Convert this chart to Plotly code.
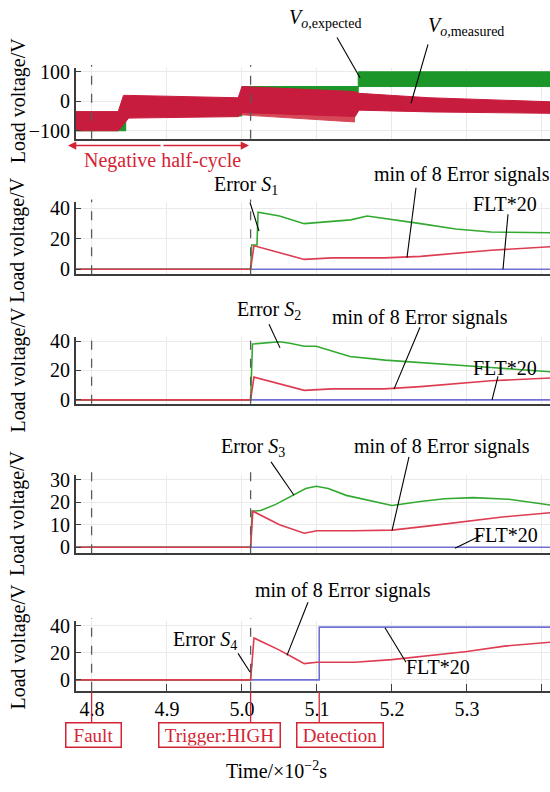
import plotly.graph_objects as go

W, H = 550, 792
FONT = "Liberation Serif, Times New Roman, serif"

# ---------------- data ----------------
t_left, t_right = 4.7783, 5.4107
t_fault, t_trigger, t_detect = 4.7995, 5.0115, 5.103

# panel 1 : expected output voltage (switching band envelope)
exp_t = [4.775, 4.845, 4.845, 5.0, 5.0, 5.155, 5.155, 5.415]
exp_lo = [-100, -100, -50, -50, 0, 0, 50, 50]
exp_hi = [-50, -50, 0, 0, 50, 50, 100, 100]

# panel 1 : measured output voltage (switching band envelope)
meas_t = [4.775, 4.835, 4.842, 4.849, 4.995, 5.0, 5.15, 5.156, 5.25, 5.415]
meas_hi = [-35, -35, 20, 20, 12, 50, 33, 27, 12, -2]
meas_lo = [-100, -100, -80, -57, -52, -42, -55, -30, -36, -41]
light_t = [5.0, 5.15]
light_hi = [-42, -55]
light_lo = [-46, -70]

# panel 2 : Error S1
s1_t = [4.775, 5.0115, 5.013, 5.020, 5.0215, 5.05, 5.083, 5.12, 5.145, 5.167, 5.19, 5.238, 5.285, 5.332, 5.415]
s1_v = [0, 0, 16, 16, 37.5, 35, 30, 31.5, 32.5, 35, 33.5, 30, 26.5, 24.5, 24]
m2_t = [4.775, 5.0115, 5.016, 5.05, 5.083, 5.12, 5.19, 5.238, 5.285, 5.332, 5.415]
m2_v = [0, 0, 15.5, 11, 6.5, 7.5, 7.5, 8.5, 10.5, 12.5, 15]

# panel 3 : Error S2
s2_t = [4.775, 5.0115, 5.014, 5.03, 5.05, 5.064, 5.083, 5.099, 5.12, 5.144, 5.191, 5.238, 5.285, 5.332, 5.415]
s2_v = [0, 0, 38, 38.5, 39.5, 38.5, 36.5, 36.5, 33, 29.5, 27, 25.5, 24, 22, 19]
m3_t = [4.775, 5.0115, 5.016, 5.05, 5.083, 5.12, 5.19, 5.238, 5.285, 5.332, 5.415]
m3_v = [0, 0, 15.5, 11, 6.5, 7.5, 7.5, 9, 11, 13, 15]

# panel 4 : Error S3
s3_t = [4.775, 5.0115, 5.0135, 5.025, 5.045, 5.064, 5.085, 5.099, 5.115, 5.139, 5.167, 5.2, 5.238, 5.27, 5.308, 5.356, 5.415]
s3_v = [0, 0, 16, 16.3, 19, 22.4, 26, 27, 26, 23, 21, 18.5, 20.3, 21.5, 22, 21.3, 18.5]
m4_t = [4.775, 5.0115, 5.0145, 5.05, 5.083, 5.1, 5.15, 5.2, 5.25, 5.3, 5.35, 5.415]
m4_v = [0, 0, 16, 10, 6.2, 7.3, 7.3, 7.6, 9.5, 11.5, 13.5, 15.4]

# panel 5 : Error S4
s4_t = [4.775, 5.0115, 5.0125, 5.0135]
s4_v = [0, 0, 9, 12]
m5_t = [4.775, 5.0115, 5.016, 5.05, 5.07, 5.083, 5.1, 5.15, 5.2, 5.25, 5.3, 5.35, 5.415]
m5_v = [0, 0, 31, 22, 16, 12, 13, 13, 15, 18, 21, 25, 28]

flt_t = [4.775, 5.415]
flt_v = [0, 0]
flt5_t = [4.775, 5.103, 5.103, 5.415]
flt5_v = [0, 0, 39, 39]

x_ticks = [4.8, 4.9, 5.0, 5.1, 5.2, 5.3, 5.4]
x_ticktext = ["4.8", "4.9", "5.0", "5.1", "5.2", "5.3", ""]
y_ticks = [[-100, 0, 100], [0, 20, 40], [0, 20, 40], [0, 10, 20, 30], [0, 20, 40]]

# ---------------- layout geometry (pixels) ----------------
AX_L = 75.7
panels_px = [(62, 134), (199, 272), (336, 404), (476, 556), (625, 696)]
title_cy = [95, 237, 369, 515, 651]
y_ranges = [[-126.7, 113.3], [-3.2, 43.9], [-2.7, 42.7], [-2.6, 32.2], [-8, 43.6]]


def X(px):
    return px / W


def Y(py):
    return 1 - py / H


GREEN_BAND = "rgb(28,150,40)"
RED_BAND = "rgb(200,28,62)"
GREEN = "rgb(50,170,50)"
RED = "rgb(222,60,82)"
BLUE = "rgb(112,112,212)"
ANN_RED = "rgb(212,36,52)"
GRID = "rgb(234,234,234)"
AXC = "rgb(60,60,60)"

fig = go.Figure()


def band(t, lo, hi, color, xa, ya):
    fig.add_trace(go.Scatter(
        x=list(t) + list(t)[::-1], y=list(hi) + list(lo)[::-1],
        fill="toself", fillcolor=color, line=dict(color=color, width=1),
        mode="lines", xaxis=xa, yaxis=ya, hoverinfo="skip", showlegend=False))


def line(t, v, color, xa, ya, w=1.6):
    fig.add_trace(go.Scatter(x=t, y=v, mode="lines", line=dict(color=color, width=w),
                             xaxis=xa, yaxis=ya, showlegend=False))


band(exp_t, exp_lo, exp_hi, GREEN_BAND, "x", "y")
band(meas_t, meas_lo, meas_hi, RED_BAND, "x", "y")
band(light_t, light_lo, light_hi, "rgb(214,72,88)", "x", "y")

line(flt_t, flt_v, BLUE, "x2", "y2")
line(s1_t, s1_v, GREEN, "x2", "y2")
line(m2_t, m2_v, RED, "x2", "y2")

line(flt_t, flt_v, BLUE, "x3", "y3")
line(s2_t, s2_v, GREEN, "x3", "y3")
line(m3_t, m3_v, RED, "x3", "y3")

line(flt_t, flt_v, BLUE, "x4", "y4")
line(s3_t, s3_v, GREEN, "x4", "y4")
line(m4_t, m4_v, RED, "x4", "y4")

line(flt5_t, flt5_v, BLUE, "x5", "y5")
line(s4_t, s4_v, GREEN, "x5", "y5")
line(m5_t, m5_v, RED, "x5", "y5")

layout = dict(width=W, height=H, margin=dict(l=0, r=0, t=0, b=0),
              paper_bgcolor="white", plot_bgcolor="white",
              font=dict(family=FONT, size=20, color="black"), showlegend=False)

shapes = []
annotations = []
for i in range(5):
    k = "" if i == 0 else str(i + 1)
    top, bot = panels_px[i]
    last = i == 4
    layout["xaxis" + k] = dict(
        domain=[X(AX_L), 1], range=[t_left, t_right], anchor="y" + k,
        showline=True, linecolor=AXC, linewidth=1.5, mirror=False,
        showgrid=True, gridcolor=GRID, gridwidth=1, zeroline=False,
        tickmode="array", tickvals=x_ticks, ticktext=x_ticktext,
        ticks="inside" if last else "", ticklen=7, tickcolor=AXC, tickwidth=1.2,
        showticklabels=last, tickfont=dict(family=FONT, size=20))
    layout["yaxis" + k] = dict(
        domain=[Y(bot), Y(top)], range=y_ranges[i], anchor="x" + k,
        showline=True, linecolor=AXC, linewidth=1.5,
        showgrid=True, gridcolor=GRID, gridwidth=1, zeroline=False,
        tickmode="array", tickvals=y_ticks[i],
        ticks="inside", ticklen=6, tickcolor=AXC, tickwidth=1.2,
        ticklabelstandoff=0, tickfont=dict(family=FONT, size=20))
    for tv in (t_fault, t_trigger):
        shapes.append(dict(type="line", xref="x" + k, yref="y" + k + " domain",
                           x0=tv, x1=tv, y0=0, y1=1.04,
                           line=dict(color="rgb(90,90,90)", width=1.3, dash="dash")))
    annotations.append(dict(text="Load voltage/V", textangle=-90, xref="paper", yref="paper",
                            x=X(18), y=Y(title_cy[i]), showarrow=False,
                            xanchor="center", yanchor="middle",
                            font=dict(family=FONT, size=20)))


def label(text, cx, cy, size=20, color="black"):
    annotations.append(dict(text=text, xref="paper", yref="paper", x=X(cx), y=Y(cy),
                            showarrow=False, xanchor="center", yanchor="middle",
                            font=dict(family=FONT, size=size, color=color)))


def leader(x0, y0, x1, y1, color="black"):
    shapes.append(dict(type="line", xref="paper", yref="paper", x0=X(x0), y0=Y(y0),
                       x1=X(x1), y1=Y(y1), line=dict(color=color, width=1.1)))


# panel 1 labels
label("<i>V</i><sub><i>o</i>,expected</sub>", 325, 12)
leader(337, 31, 360, 72)
label("<i>V</i><sub><i>o</i>,measured</sub>", 466, 20)
leader(428, 38, 411, 98)
label("Negative half-cycle", 162, 156, 20, ANN_RED)
for xe, off in ((68, 94), (249, -87)):
    annotations.append(dict(text="", xref="paper", yref="paper", x=X(xe), y=Y(141),
                            ax=off, ay=0, showarrow=True, arrowhead=2, arrowsize=1.1,
                            arrowwidth=1.5, arrowcolor=ANN_RED))

# panel 2
label("Error <i>S</i><sub>1</sub>", 246, 182)
leader(250, 199, 259, 228)
label("min of 8 Error signals", 462, 171)
leader(416, 184, 407, 255)
label("FLT*20", 505, 201)
leader(508, 211, 503, 267)

# panel 3
label("Error <i>S</i><sub>2</sub>", 269, 309)
leader(269, 323, 280, 347)
label("min of 8 Error signals", 420, 316)
leader(420, 326, 394, 389)
label("FLT*20", 505, 368)
leader(498, 376, 492, 400)

# panel 4
label("Error <i>S</i><sub>3</sub>", 253, 448)
leader(271, 463, 294, 497)
label("min of 8 Error signals", 442, 447)
leader(409, 458, 392, 533)
label("FLT*20", 506, 538)
leader(481, 538, 455, 551)

# panel 5
label("min of 8 Error signals", 343, 594)
leader(308, 606, 287, 660)
label("Error <i>S</i><sub>4</sub>", 205, 645)
leader(238, 658, 250, 677)
label("FLT*20", 438, 672)
leader(406, 667, 385, 632)

# event boxes
for txt, cx, wd, tv in (("Fault", 93.7, 52, t_fault), ("Trigger:HIGH", 219, 118, t_trigger),
                        ("Detection", 340, 83, t_detect)):
    annotations.append(dict(text=txt, xref="paper", yref="paper", x=X(cx), y=Y(741),
                            showarrow=False, xanchor="center", yanchor="middle",
                            width=wd, height=21, borderpad=1, bordercolor=ANN_RED,
                            borderwidth=1.5, bgcolor="white",
                            font=dict(family=FONT, size=19, color=ANN_RED)))
    shapes.append(dict(type="line", xref="x5", yref="paper", x0=tv, x1=tv,
                       y0=Y(697), y1=Y(729), line=dict(color=ANN_RED, width=1.3)))

label("Time/×10<sup>−2</sup>s", 276, 777, 20)

layout["shapes"] = shapes
layout["annotations"] = annotations
fig.update_layout(**layout)
fig.write_html("out.html")
